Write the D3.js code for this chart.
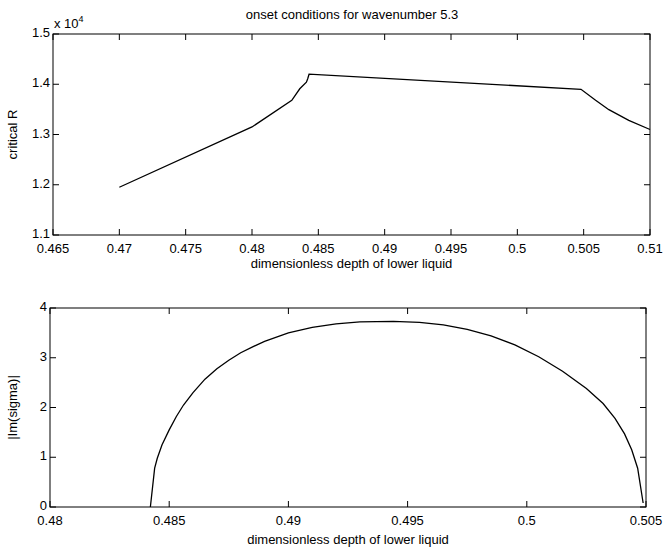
<!DOCTYPE html>
<html>
<head>
<meta charset="utf-8">
<script src="https://cdn.jsdelivr.net/npm/d3@7"></script>
<style>
  body { margin: 0; background: #fff; }
  text { font-family: "Liberation Sans", Arial, sans-serif; fill: #000; }
</style>
</head>
<body>
<div id="chart"></div>
<script>
// top panel: critical R vs depth
const depthTop = [0.47, 0.48, 0.483, 0.4836, 0.4841, 0.4842, 0.4843, 0.5048, 0.5059, 0.5069, 0.5084, 0.51];
const criticalR = [11950, 13150, 13680, 13910, 14040, 14110, 14200, 13900, 13680, 13494, 13280, 13100];
const xTicksTop = [0.465, 0.47, 0.475, 0.48, 0.485, 0.49, 0.495, 0.5, 0.505, 0.51];
const yTicksTop = [11000, 12000, 13000, 14000, 15000];

// bottom panel: |Im(sigma)| vs depth
const depthBot = [0.48421, 0.48439, 0.4845, 0.4847, 0.485, 0.4853, 0.4856, 0.486, 0.4865, 0.487, 0.4875,
                  0.488, 0.4885, 0.489, 0.49, 0.491, 0.492, 0.493, 0.4944, 0.4955, 0.4965, 0.4975,
                  0.4985, 0.4995, 0.5005, 0.5015, 0.5025, 0.5032, 0.5037, 0.5041, 0.5044, 0.50465, 0.50488];
const imSigma = [0, 0.78, 0.98, 1.25, 1.55, 1.82, 2.05, 2.3, 2.57, 2.78, 2.95,
                 3.1, 3.22, 3.33, 3.5, 3.61, 3.68, 3.72, 3.73, 3.71, 3.66, 3.57,
                 3.44, 3.26, 3.02, 2.73, 2.38, 2.08, 1.78, 1.47, 1.15, 0.78, 0.08];
const xTicksBot = [0.48, 0.485, 0.49, 0.495, 0.5, 0.505];
const yTicksBot = [0, 1, 2, 3, 4];

const W = 665, H = 550;
const svg = d3.select("#chart").append("svg")
    .attr("width", W)
    .attr("height", H);

// draws one matlab-style boxed panel
function panel(box, xs, ys, xDom, yDom, xTicks, yTicks, yFmt, ylab) {
    const x = d3.scaleLinear().domain(xDom).range([box.left, box.right]);
    const y = d3.scaleLinear().domain(yDom).range([box.bottom, box.top]);
    const tick = 6;
    const g = svg.append("g");

    g.append("rect")
        .attr("x", box.left).attr("y", box.top)
        .attr("width", box.right - box.left)
        .attr("height", box.bottom - box.top)
        .attr("fill", "none").attr("stroke", "#000").attr("stroke-width", 1);

    // inward ticks on all sides
    xTicks.forEach(function(t) {
        g.append("line").attr("x1", x(t)).attr("x2", x(t))
            .attr("y1", box.bottom).attr("y2", box.bottom - tick).attr("stroke", "#000");
        g.append("line").attr("x1", x(t)).attr("x2", x(t))
            .attr("y1", box.top).attr("y2", box.top + tick).attr("stroke", "#000");
        g.append("text")
            .attr("x", x(t)).attr("y", box.bottom + 18)
            .attr("text-anchor", "middle")
            .style("font-size", "13px")
            .text(String(t));
    });
    yTicks.forEach(function(t) {
        g.append("line").attr("x1", box.left).attr("x2", box.left + tick)
            .attr("y1", y(t)).attr("y2", y(t)).attr("stroke", "#000");
        g.append("line").attr("x1", box.right).attr("x2", box.right - tick)
            .attr("y1", y(t)).attr("y2", y(t)).attr("stroke", "#000");
        g.append("text")
            .attr("x", box.left - 3).attr("y", y(t) + 3)
            .attr("text-anchor", "end")
            .style("font-size", "13px")
            .text(yFmt(t));
    });

    const line = d3.line()
        .x(function(d) { return x(d[0]); })
        .y(function(d) { return y(d[1]); });
    g.append("path")
        .datum(xs.map(function(v, i) { return [v, ys[i]]; }))
        .attr("d", line)
        .attr("fill", "none")
        .attr("stroke", "#000")
        .attr("stroke-width", 1.3);

    g.append("text")
        .attr("x", (box.left + box.right) / 2).attr("y", box.bottom + box.xlab)
        .attr("text-anchor", "middle")
        .style("font-size", "13px")
        .text("dimensionless depth of lower liquid");

    g.append("text")
        .attr("transform", "translate(17," + ((box.top + box.bottom) / 2) + ") rotate(-90)")
        .attr("text-anchor", "middle")
        .style("font-size", "13px")
        .text(ylab);
}

panel({ left: 53, right: 650, top: 34, bottom: 235, xlab: 33 },
    depthTop, criticalR, [0.465, 0.51], [11000, 15000], xTicksTop, yTicksTop,
    function(v) { return d3.format(".1f")(v / 1e4); }, "critical R");

panel({ left: 50, right: 646, top: 308, bottom: 507, xlab: 37 },
    depthBot, imSigma, [0.48, 0.505], [0, 4], xTicksBot, yTicksBot,
    function(v) { return String(v); }, "|Im(sigma)|");

// title and exponent
svg.append("text")
    .attr("x", 352).attr("y", 19)
    .attr("text-anchor", "middle")
    .style("font-size", "13px")
    .text("onset conditions for wavenumber 5.3");

const ex = svg.append("text")
    .attr("x", 54).attr("y", 28)
    .style("font-size", "13px");
ex.append("tspan").text("x 10");
ex.append("tspan").attr("dy", -6).style("font-size", "9px").text("4");
</script>
</body>
</html>
